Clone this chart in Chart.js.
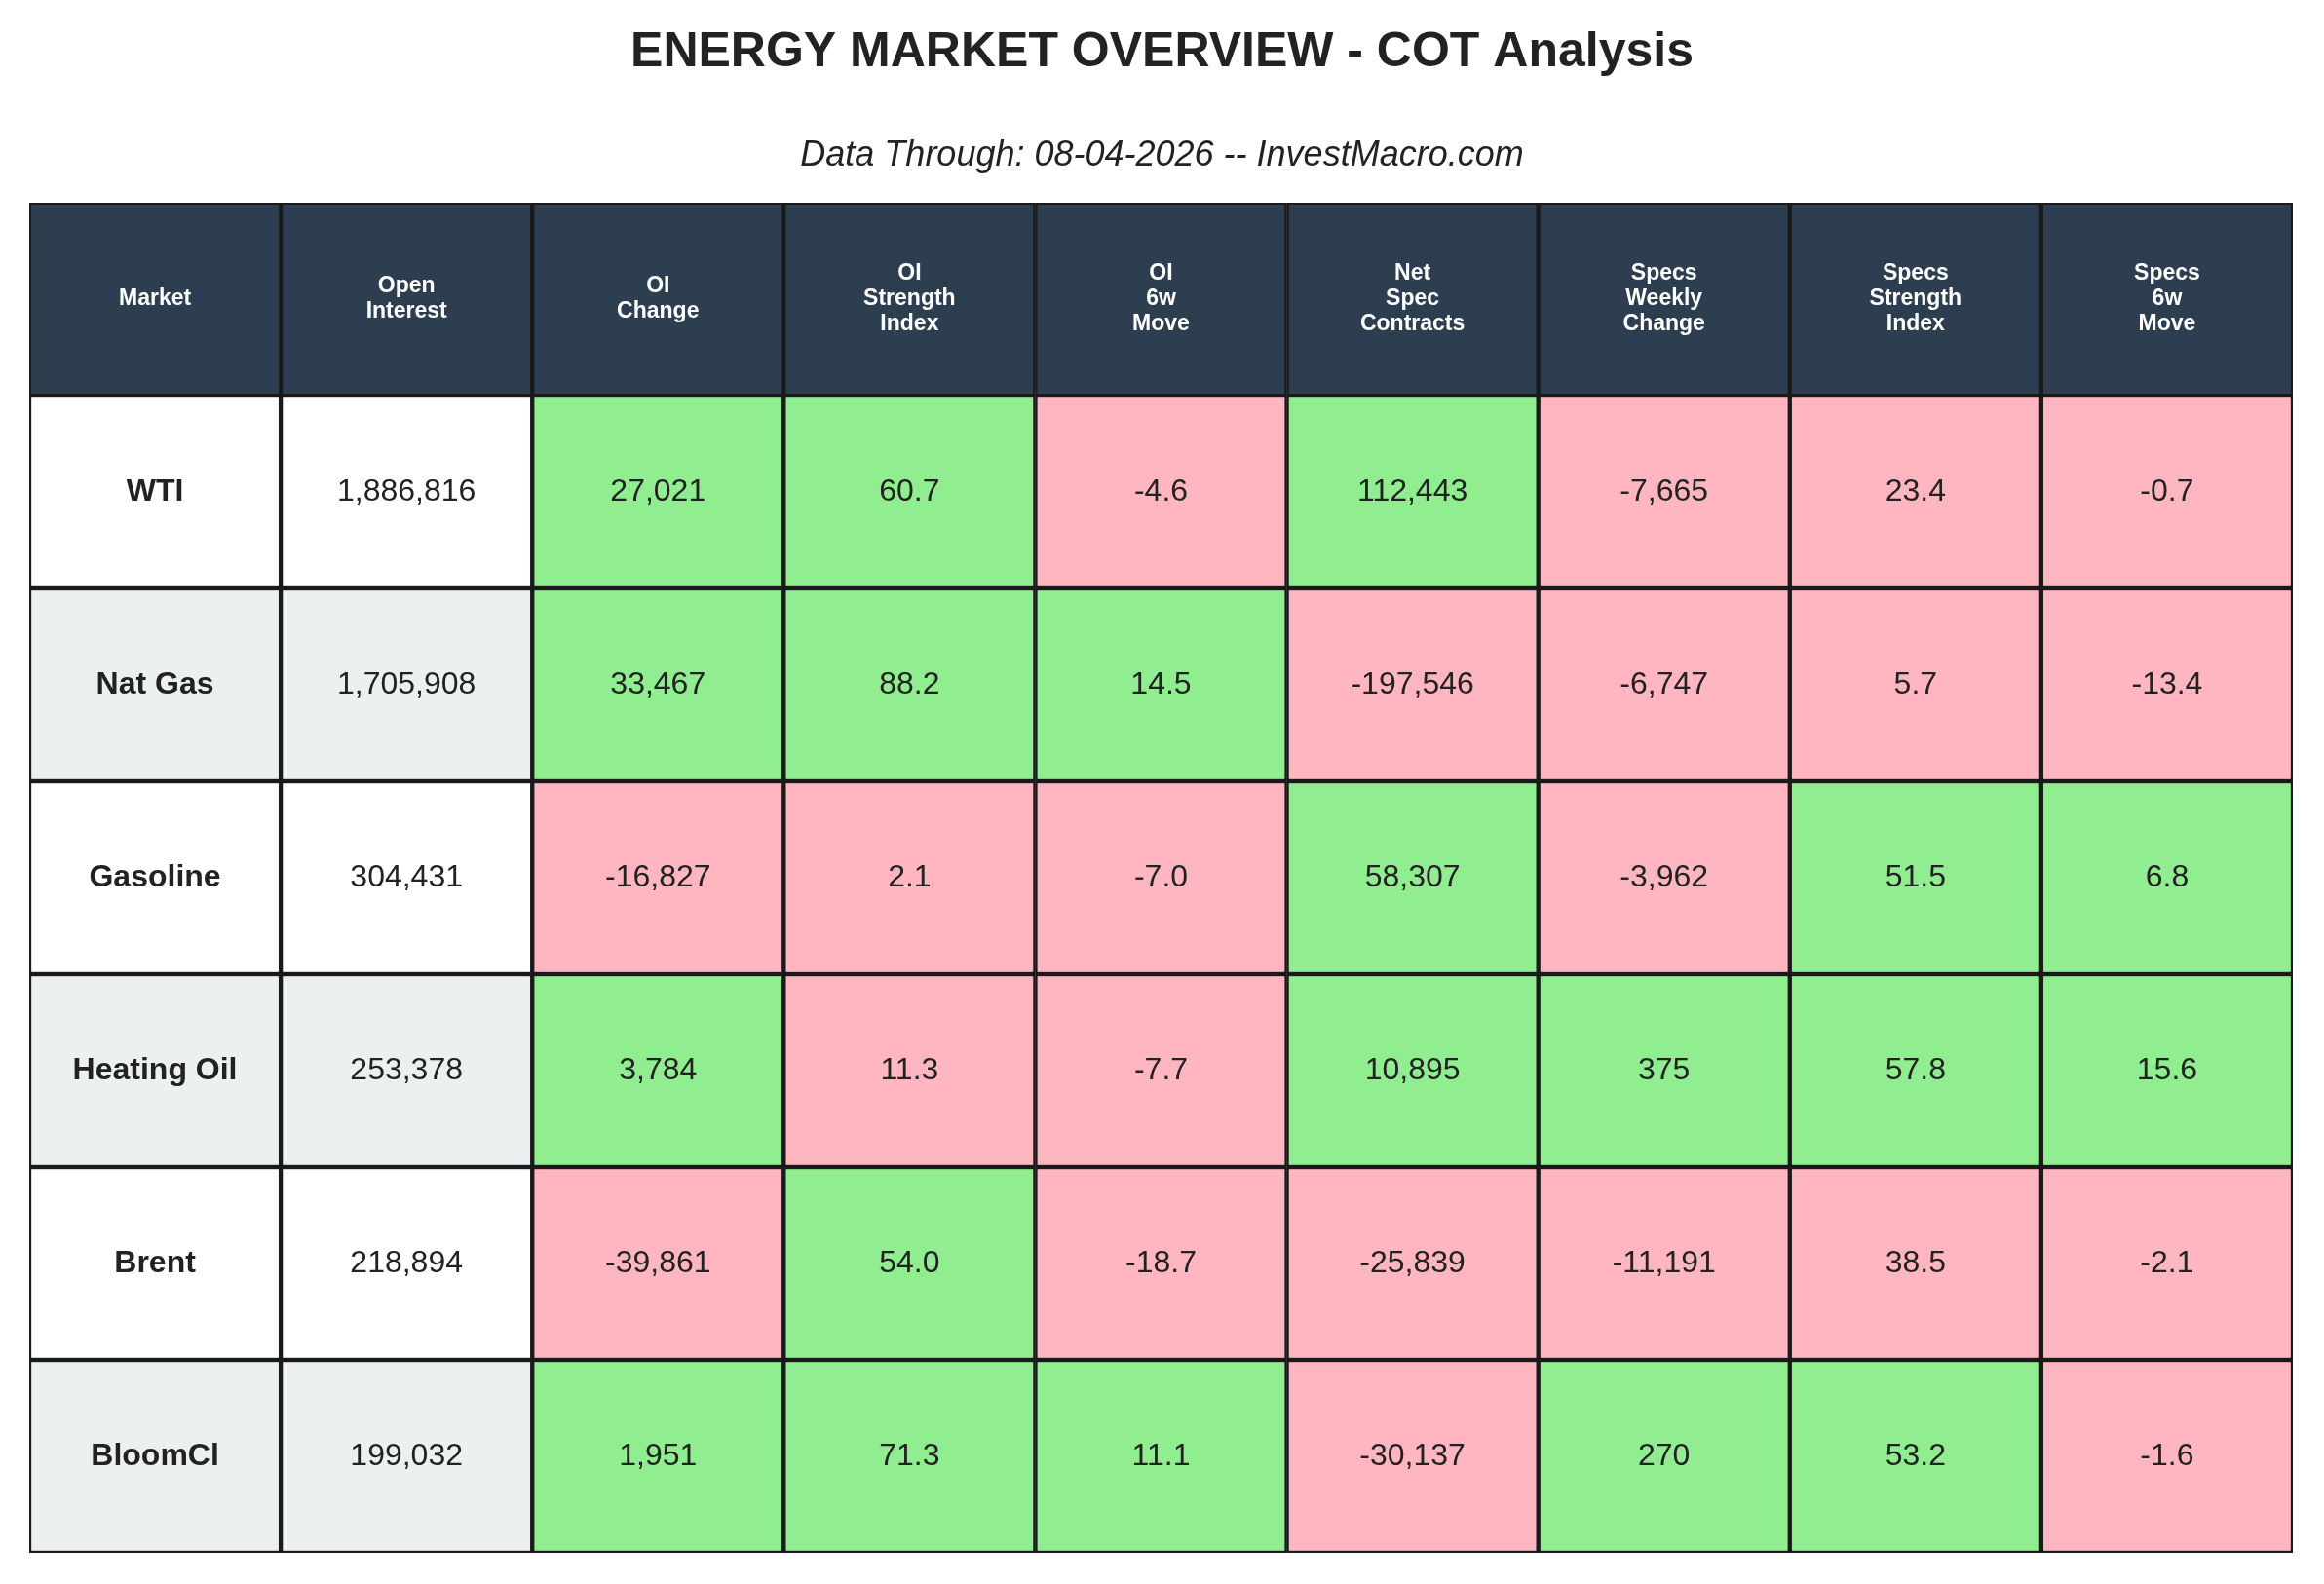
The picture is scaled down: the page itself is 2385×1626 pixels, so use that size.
<!DOCTYPE html>
<html>
<head>
<meta charset="utf-8">
<script src="https://cdn.jsdelivr.net/npm/chart.js@4"></script>
<style>
  body { margin: 0; background: #fff; }
  canvas { display: block; }
</style>
</head>
<body>
<canvas id="cotTable" width="2385" height="1626"></canvas>
<script>
document.addEventListener("DOMContentLoaded", function () {
  const headers = [
    ["Market"], ["Open", "Interest"], ["OI", "Change"], ["OI", "Strength", "Index"],
    ["OI", "6w", "Move"], ["Net", "Spec", "Contracts"], ["Specs", "Weekly", "Change"],
    ["Specs", "Strength", "Index"], ["Specs", "6w", "Move"]
  ];

  // market, open interest, oi change, oi strength, oi 6w, net spec, spec change, spec strength, spec 6w
  const rows = [
    ["WTI", 1886816, 27021, 60.7, -4.6, 112443, -7665, 23.4, -0.7],
    ["Nat Gas", 1705908, 33467, 88.2, 14.5, -197546, -6747, 5.7, -13.4],
    ["Gasoline", 304431, -16827, 2.1, -7.0, 58307, -3962, 51.5, 6.8],
    ["Heating Oil", 253378, 3784, 11.3, -7.7, 10895, 375, 57.8, 15.6],
    ["Brent", 218894, -39861, 54.0, -18.7, -25839, -11191, 38.5, -2.1],
    ["BloomCl", 199032, 1951, 71.3, 11.1, -30137, 270, 53.2, -1.6]
  ];

  const GREEN = "#90ee90", PINK = "#ffb6c1", HEAD = "#2c3e50", GREY = "#ecf0f1";
  const strengthCols = [3, 7];

  function cellColor(r, c) {
    if (r === 0) return HEAD;
    const row = rows[r - 1];
    if (c < 2) return (r % 2 === 0) ? GREY : "#ffffff";
    const v = row[c];
    if (strengthCols.includes(c)) return v > 50 ? GREEN : PINK;
    return v > 0 ? GREEN : PINK;
  }

  function cellText(r, c) {
    if (r === 0) return headers[c];
    const v = rows[r - 1][c];
    if (c === 0) return [v];
    if (strengthCols.includes(c) || c === 4 || c === 8) return [v.toFixed(1)];
    return [v.toLocaleString("en-US")];
  }

  const labels = ["header"].concat(rows.map(r => r[0]));
  const datasets = headers.map((h, c) => ({
    label: h.join(" "),
    data: labels.map(() => 1),
    backgroundColor: labels.map((l, r) => cellColor(r, c)),
    borderColor: "#1a1a1a",
    borderWidth: 2.5,
    borderSkipped: false,
    barPercentage: 1,
    categoryPercentage: 1
  }));

  const textPlugin = {
    id: "cellText",
    afterDatasetsDraw(chart) {
      const ctx = chart.ctx;
      ctx.save();
      ctx.textAlign = "center";
      ctx.textBaseline = "middle";
      chart.data.datasets.forEach((ds, c) => {
        chart.getDatasetMeta(c).data.forEach((el, r) => {
          const cx = (el.x + el.base) / 2;
          const lines = cellText(r, c);
          if (r === 0) {
            ctx.fillStyle = "#ffffff";
            ctx.font = "bold 23px Liberation Sans, Arial, sans-serif";
          } else {
            ctx.fillStyle = "#222222";
            ctx.font = (c === 0 ? "bold " : "") + "32px Liberation Sans, Arial, sans-serif";
          }
          const lh = 26;
          lines.forEach((t, i) => {
            ctx.fillText(t, cx, el.y + (i - (lines.length - 1) / 2) * lh);
          });
        });
      });
      ctx.restore();
    },
    afterDraw(chart) {
      const ctx = chart.ctx;
      ctx.save();
      ctx.textAlign = "center";
      ctx.textBaseline = "middle";
      ctx.fillStyle = "#222222";
      ctx.font = "bold 50px Liberation Sans, Arial, sans-serif";
      ctx.fillText("ENERGY MARKET OVERVIEW - COT Analysis", chart.width / 2, 54);
      ctx.font = "italic 36px Liberation Sans, Arial, sans-serif";
      ctx.fillText("Data Through: 08-04-2026 -- InvestMacro.com", chart.width / 2, 160);
      ctx.restore();
    }
  };

  new Chart(document.getElementById("cotTable").getContext("2d"), {
    type: "bar",
    data: { labels, datasets },
    options: {
      indexAxis: "y",
      responsive: false,
      animation: false,
      layout: { padding: { left: 30, right: 32, top: 208, bottom: 32 } },
      scales: {
        x: { stacked: true, min: 0, max: headers.length, display: false },
        y: { stacked: true, display: false }
      },
      plugins: { legend: { display: false }, tooltip: { enabled: false } }
    },
    plugins: [textPlugin]
  });
});
</script>
</body>
</html>
